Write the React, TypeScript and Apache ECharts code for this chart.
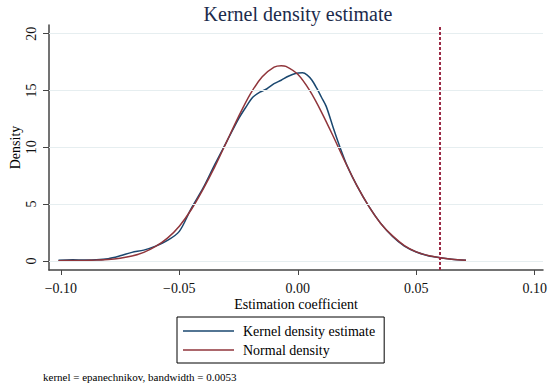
import React, { useEffect, useRef } from "react";
import * as echarts from "echarts";

const kernelX = [-0.101, -0.095, -0.09, -0.085, -0.08, -0.075, -0.07, -0.065, -0.06, -0.055, -0.05, -0.045, -0.04, -0.035, -0.03, -0.025, -0.022, -0.019, -0.016, -0.013, -0.01, -0.007, -0.004, -0.001, 0.002, 0.004, 0.006, 0.008, 0.01, 0.012, 0.015, 0.018, 0.021, 0.025, 0.03, 0.035, 0.04, 0.045, 0.05, 0.055, 0.06, 0.065, 0.071];
const kernelY = [0.05, 0.1, 0.08, 0.1, 0.2, 0.45, 0.75, 0.95, 1.3, 1.8, 2.6, 4.6, 6.4, 8.5, 10.5, 12.5, 13.5, 14.4, 14.85, 15.15, 15.6, 15.9, 16.25, 16.5, 16.55, 16.35, 15.9, 15.2, 14.4, 13.6, 11.7, 9.9, 8.3, 6.6, 4.8, 3.3, 2.15, 1.3, 0.78, 0.46, 0.28, 0.15, 0.05];

const normalX = [-0.101, -0.095, -0.09, -0.085, -0.08, -0.075, -0.07, -0.065, -0.06, -0.055, -0.05, -0.045, -0.04, -0.035, -0.03, -0.025, -0.02, -0.015, -0.01, -0.007, -0.005, 0.0, 0.005, 0.01, 0.015, 0.02, 0.025, 0.03, 0.035, 0.04, 0.045, 0.05, 0.055, 0.06, 0.065, 0.071];
const normalY = [0.02, 0.03, 0.04, 0.07, 0.12, 0.24, 0.43, 0.75, 1.27, 2.0, 3.05, 4.5, 6.3, 8.3, 10.5, 12.7, 14.7, 16.2, 17.05, 17.18, 17.12, 16.42, 15.0, 13.1, 10.95, 8.7, 6.6, 4.8, 3.3, 2.2, 1.35, 0.8, 0.48, 0.28, 0.15, 0.06];

const yTicks = [0, 5, 10, 15, 20];
const xTicks = [-0.1, -0.05, 0, 0.05, 0.1];
const cutoff = 0.059;

const FONT = "Liberation Serif";

export default function App() {
  const ref = useRef<HTMLDivElement>(null);
  useEffect(() => {
    if (!ref.current) return;
    const chart = echarts.init(ref.current, null, { renderer: "svg" });
    const fmtX = (v: number) => {
      const s = Math.abs(v).toFixed(2);
      return v < -1e-9 ? "\u2212" + s : s;
    };
    chart.setOption({
      animation: false,
      textStyle: { fontFamily: FONT },
      title: {
        text: "Kernel density estimate",
        left: 293,
        textAlign: "center",
        top: -1,
        textStyle: { fontFamily: FONT, fontSize: 20, fontWeight: "normal", color: "#1c2b4c" },
      },
      grid: { left: 43, right: 7, top: 25, bottom: 118, containLabel: false },
      legend: {
        data: ["Kernel density estimate", "Normal density"],
        orient: "vertical",
        left: 177,
        top: 317,
        borderColor: "#000",
        borderWidth: 1,
        padding: [7, 9, 6, 6],
        itemGap: 5,
        itemWidth: 51,
        itemHeight: 15,
        icon: "path://M0,7H51V8.6H0Z",
        textStyle: { fontFamily: FONT, fontSize: 14, color: "#000", padding: [0, 0, 0, 4] },
      },
      graphic: [
        {
          type: "text",
          left: 43,
          top: 371,
          style: { text: "kernel = epanechnikov, bandwidth = 0.0053", fontFamily: FONT, fontSize: 11, fill: "#000" },
        },
      ],
      xAxis: {
        type: "value",
        min: -0.105,
        max: 0.1035,
        name: "Estimation coefficient",
        nameLocation: "middle",
        nameGap: 27,
        nameMoveOverlap: false,
        nameTextStyle: { fontFamily: FONT, fontSize: 14, color: "#000" },
        axisLine: { show: true, onZero: false, lineStyle: { color: "#444", width: 1.5 } },
        axisTick: { show: true, length: 5, customValues: xTicks, lineStyle: { color: "#444" } },
        axisLabel: { customValues: xTicks, formatter: fmtX, fontFamily: FONT, fontSize: 14, color: "#111", margin: 11 },
        splitLine: { show: false },
      },
      yAxis: {
        type: "value",
        min: -0.8,
        max: 20.76,
        name: "Density",
        nameLocation: "middle",
        nameGap: 27,
        nameRotate: 90,
        nameMoveOverlap: false,
        nameTextStyle: { fontFamily: FONT, fontSize: 14, color: "#000" },
        axisLine: { show: true, onZero: false, lineStyle: { color: "#444", width: 1.5 } },
        axisTick: { show: true, length: 6, customValues: yTicks, lineStyle: { color: "#444" } },
        axisLabel: { customValues: yTicks, rotate: 90, fontFamily: FONT, fontSize: 14, color: "#111", margin: 11 },
        splitLine: { show: false },
      },
      series: [
        {
          name: "guides",
          type: "line",
          data: [],
          z: 1,
          silent: true,
          markLine: {
            silent: true,
            symbol: "none",
            label: { show: false },
            animation: false,
            data: [
              ...yTicks.map((v) => ({ yAxis: v, lineStyle: { color: "#e6eef0", width: 1.2, type: "solid" } })),
              { xAxis: cutoff, lineStyle: { color: "#9b2a45", width: 2, type: [3, 2] } },
            ],
          },
        },
        {
          name: "Kernel density estimate",
          type: "line",
          data: kernelX.map((x, i) => [x, kernelY[i]]),
          symbol: "none",
          smooth: 0.3,
          z: 2,
          lineStyle: { color: "#1a476f", width: 1.5 },
          itemStyle: { color: "#1a476f" },
        },
        {
          name: "Normal density",
          type: "line",
          data: normalX.map((x, i) => [x, normalY[i]]),
          symbol: "none",
          smooth: 0.3,
          z: 3,
          lineStyle: { color: "#90353b", width: 1.5 },
          itemStyle: { color: "#90353b" },
        },
      ],
    });
    return () => chart.dispose();
  }, []);
  return <div ref={ref} style={{ width: 550, height: 388, position: "absolute", left: 0, top: 0, background: "#fff" }} />;
}
